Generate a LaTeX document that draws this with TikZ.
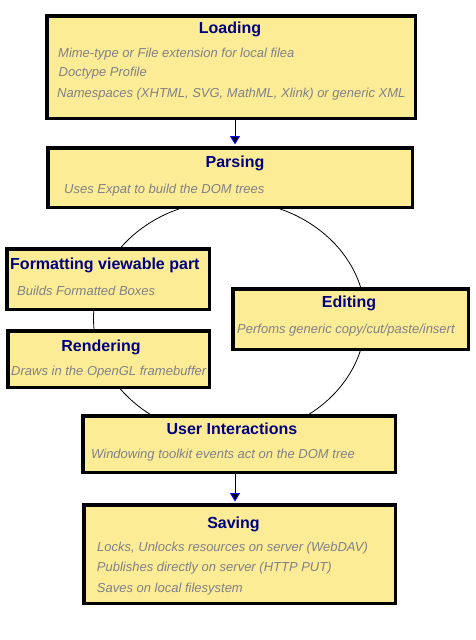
\documentclass[tikz,border=0pt]{standalone}
\usepackage{fontspec}
\setmainfont{Liberation Sans}
\usetikzlibrary{arrows.meta}
\definecolor{boxfill}{RGB}{253,236,150}
\definecolor{titlecol}{RGB}{0,0,128}
\definecolor{bodycol}{RGB}{128,128,136}
\definecolor{tipblue}{RGB}{0,0,255}
\begin{document}
\begin{tikzpicture}[x=1pt,y=-1pt,
  box/.style={draw=black, line width=3.5pt, fill=boxfill, inner sep=0pt},
  ttl/.style={anchor=base, inner sep=0pt, text=titlecol, font=\fontsize{16}{19}\selectfont\bfseries},
  ttlw/.style={anchor=base west, inner sep=0pt, text=titlecol, font=\fontsize{16}{19}\selectfont\bfseries},
  body/.style={anchor=base west, inner sep=0pt, text=bodycol, font=\fontsize{13}{15}\selectfont\itshape},
  arr/.style={line width=1pt, -{Triangle[width=10pt,length=8.5pt,color=tipblue,fill=black,line width=1pt]}, shorten >=1.5pt},
  cyc/.style={line width=0.8pt, draw=black}
]
\useasboundingbox (0,0) rectangle (476,640);
% cycle
\coordinate (cc) at (229.5,318.5);
\draw[cyc] (cc) ellipse [x radius=136, y radius=118];
% boxes
\node[box, minimum width=368.5pt, minimum height=102.5pt] (load) at (231,67) {};
\node[box, minimum width=364.5pt, minimum height=59.5pt] (parse) at (230,177.5) {};
\node[box, minimum width=202.5pt, minimum height=60.5pt] (fmt) at (108,279) {};
\node[box, minimum width=201.5pt, minimum height=56.5pt] (rend) at (108.5,359) {};
\node[box, minimum width=235.5pt, minimum height=60.5pt] (edit) at (350.5,319) {};
\node[box, minimum width=312.5pt, minimum height=56.5pt] (ui) at (239,444) {};
\node[box, minimum width=311.5pt, minimum height=98.5pt] (save) at (239.5,554) {};
% arrows
\coordinate (ax) at (235,0);
\draw[arr] (ax |- load.south) -- (ax |- parse.north);
\draw[arr] (ax |- ui.south) -- (ax |- save.north);
% texts
\node[ttl] (loadt) at (230,33.3) {Loading};
\node[body] (load1) at (58,57.7) {Mime-type or File extension for local filea};
\node[body] (load2) at (58.5,76.7) {Doctype Profile};
\node[body] (load3) at (57,97.3) {Namespaces (XHTML, SVG, MathML, Xlink) or generic XML};
\node[ttl] (parset) at (235,167.3) {Parsing};
\node[body] (parse1) at (64,193.3) {Uses Expat to build the DOM trees};
\node[ttlw] (fmtt) at (10,269.3) {Formatting viewable part};
\node[body] (fmt1) at (17,295) {Builds Formatted Boxes};
\node[ttl] (rendt) at (101,351.7) {Rendering};
\node[body] (rend1) at (11,375) {Draws in the OpenGL framebuffer};
\node[ttl] (editt) at (349,307.7) {Editing};
\node[body] (edit1) at (237,333.3) {Perfoms generic copy/cut/paste/insert};
\node[ttl] (uit) at (232,434.7) {User Interactions};
\node[body] (ui1) at (91,458.7) {Windowing toolkit events act on the DOM tree};
\node[ttl] (savet) at (233.5,528) {Saving};
\node[body] (save1) at (97,551.7) {Locks, Unlocks resources on server (WebDAV)};
\node[body] (save2) at (96.7,571.7) {Publishes directly on server (HTTP PUT)};
\node[body] (save3) at (96.7,592.7) {Saves on local filesystem};
\end{tikzpicture}
\end{document}
